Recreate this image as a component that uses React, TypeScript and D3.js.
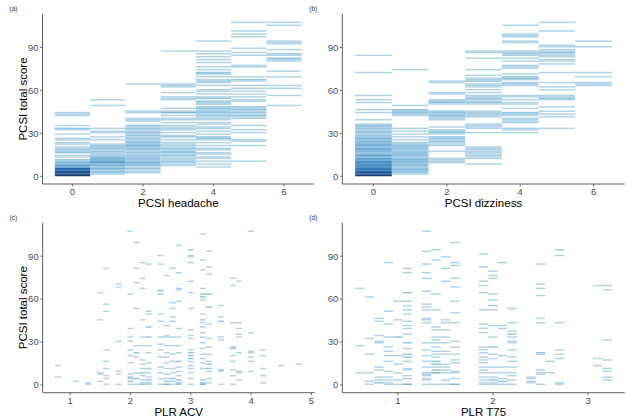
import React from 'react';
import * as d3 from 'd3';

// PCSI total score counts per headache level: [score, n]
const headache0 = [[0,9],[1,9],[2,8],[3,8],[4,7],[5,7],[6,4],[7,4],[8,3],[9,3],[10,2],[11,2],[13,1],[14,1],[16,2],[17,1],[18,2],[19,1],[20,1],[22,1],[23,1],[25,1],[26,1],[29,1],[32,1],[33,2],[35,1],[42,1],[43,1],[44,1]];
const headache1 = [[53,1],[49,1],[33,1],[31,1],[30,1],[27,1],[25,1],[22,1],[21,2],[20,2],[19,2],[18,1],[17,2],[16,1],[15,2],[14,1],[13,3],[12,3],[11,3],[10,4],[9,4],[8,3],[7,3],[6,2],[5,3],[4,2],[3,2],[2,2],[1,1]];
const headache2 = [[64,1],[45,1],[44,1],[40,1],[39,1],[38,1],[35,2],[34,1],[33,2],[32,1],[31,1],[30,2],[29,1],[28,2],[27,1],[26,2],[25,1],[24,2],[23,2],[22,2],[21,3],[20,2],[19,2],[18,2],[17,1],[16,2],[15,1],[14,2],[13,2],[12,2],[11,2],[10,2],[9,3],[8,3],[7,2],[6,1],[5,2],[4,1],[3,1],[2,1]];
const headache3 = [[87,1],[64,1],[63,1],[62,1],[58,1],[55,1],[54,1],[53,1],[47,1],[45,1],[44,3],[42,1],[40,1],[39,1],[37,1],[35,1],[34,1],[33,1],[32,1],[30,1],[28,1],[27,2],[25,1],[23,1],[22,1],[21,1],[20,1],[19,2],[18,1],[17,2],[16,2],[15,1],[14,2],[13,1],[12,1],[11,1],[10,2],[9,1],[8,1],[7,1]];
const headache4 = [[94,1],[87,1],[85,1],[83,1],[81,1],[79,1],[76,1],[74,1],[72,2],[71,2],[69,1],[67,1],[66,2],[65,1],[63,1],[60,1],[59,1],[57,1],[55,1],[54,2],[52,2],[51,1],[50,2],[48,2],[47,2],[46,1],[45,2],[44,2],[43,1],[42,2],[41,1],[40,1],[39,1],[37,1],[36,1],[34,1],[33,1],[31,1],[29,1],[27,2],[26,2],[25,1],[23,1],[21,1],[19,1],[18,1],[16,1],[15,1],[13,1],[12,1],[10,1],[8,1],[6,1]];
const headache5 = [[107,1],[101,1],[99,1],[97,1],[89,1],[86,1],[84,1],[77,1],[76,1],[69,1],[67,2],[66,1],[63,1],[61,1],[59,1],[57,1],[55,1],[53,1],[52,1],[48,2],[47,1],[46,2],[45,1],[44,2],[43,1],[42,2],[41,1],[40,1],[35,1],[32,1],[30,1],[25,1],[24,1],[21,1],[10,1]];
const headache6 = [[107,1],[105,1],[94,1],[93,1],[92,1],[88,1],[85,2],[84,1],[82,2],[81,1],[80,1],[73,1],[69,1],[63,1],[61,1],[56,1],[49,1]];

// PCSI total score counts per dizziness level: [score, n]
const dizzy0 = [[84,1],[72,1],[56,1],[53,1],[51,1],[46,1],[44,1],[39,1],[36,1],[35,2],[34,2],[33,2],[32,1],[31,2],[30,2],[29,1],[28,2],[27,2],[26,3],[25,2],[24,3],[23,2],[22,4],[21,3],[20,3],[19,3],[18,4],[17,3],[16,2],[15,3],[14,4],[13,3],[12,4],[11,4],[10,5],[9,5],[8,6],[7,5],[6,6],[5,6],[4,7],[3,7],[2,8],[1,8],[0,9]];
const dizzy1 = [[74,1],[49,1],[46,2],[45,2],[44,2],[43,2],[42,1],[33,1],[31,1],[29,1],[27,1],[25,1],[23,1],[22,2],[21,2],[20,3],[19,2],[18,2],[17,2],[16,2],[15,3],[14,2],[13,2],[12,2],[11,3],[10,3],[9,2],[8,3],[7,2],[6,2],[5,2],[4,3],[3,2],[2,2],[1,1]];
const dizzy2 = [[66,1],[65,1],[58,1],[57,1],[53,1],[52,2],[51,2],[50,1],[45,2],[44,2],[43,2],[42,2],[41,2],[40,1],[39,1],[34,1],[32,1],[31,2],[30,2],[29,1],[27,2],[26,2],[25,1],[24,2],[23,1],[22,1],[21,1],[17,1],[12,1],[11,1],[10,1],[9,1]];
const dizzy3 = [[87,1],[86,1],[82,1],[74,1],[70,1],[68,1],[67,1],[66,2],[64,1],[63,1],[62,1],[60,1],[58,1],[56,1],[55,1],[54,2],[53,1],[52,1],[51,2],[50,1],[45,1],[44,1],[43,2],[42,1],[41,1],[36,1],[35,1],[34,1],[33,1],[30,1],[20,1],[19,1],[18,1],[17,1],[16,1],[15,1],[14,1],[13,1],[12,1],[8,1]];
const dizzy4 = [[105,1],[99,1],[98,1],[97,1],[94,1],[93,1],[87,1],[86,1],[85,2],[84,1],[82,1],[80,1],[77,1],[76,1],[75,1],[71,1],[69,2],[68,2],[67,1],[65,1],[64,2],[63,1],[56,1],[55,1],[53,1],[51,1],[50,1],[47,1],[44,2],[43,2],[42,1],[40,1],[39,1],[38,1],[37,1],[33,1],[32,1],[30,1]];
const dizzy5 = [[107,1],[101,1],[91,1],[90,1],[88,1],[87,1],[86,2],[85,1],[84,1],[83,1],[81,1],[80,1],[78,1],[72,1],[65,1],[62,1],[60,1],[56,1],[55,1],[54,2],[53,1],[48,1],[45,1],[43,1],[41,1],[33,1]];
const dizzy6 = [[94,1],[90,1],[72,1],[69,1],[65,1],[64,1],[63,1]];

// PLR ACV bins: [acv, score, n]
const acvBins = [
  [0.8,13,1],[0.8,5,1],[1.1,2,1],[1.3,1,1],[1.3,0,1],
  [1.5,64,1],[1.5,45,1],[1.5,8,1],[1.5,7,1],[1.5,2,1],
  [1.6,81,1],[1.6,56,1],[1.6,51,1],[1.6,24,1],[1.6,16,1],[1.6,11,1],[1.6,6,1],[1.6,4,1],[1.6,0,1],
  [1.8,70,1],[1.8,68,1],[1.8,30,1],[1.8,9,1],[1.8,7,1],[1.8,0,1],
  [2.0,107,1],[2.0,63,1],[2.0,39,1],[2.0,33,1],[2.0,30,1],[2.0,24,1],[2.0,20,1],[2.0,15,1],[2.0,7,1],[2.0,5,2],[2.0,4,1],[2.0,2,2],[2.0,0,1],
  [2.1,99,1],[2.1,81,1],[2.1,71,1],[2.1,53,1],[2.1,27,1],[2.1,22,2],[2.1,19,1],[2.1,8,1],[2.1,4,2],[2.1,0,1],
  [2.2,85,1],[2.2,74,1],[2.2,67,1],[2.2,45,1],[2.2,33,1],[2.2,27,1],[2.2,17,1],[2.2,14,1],[2.2,11,1],[2.2,8,2],[2.2,6,1],[2.2,3,1],[2.2,1,1],[2.2,0,2],
  [2.3,84,1],[2.3,51,1],[2.3,49,1],[2.3,40,2],[2.3,33,2],[2.3,27,1],[2.3,22,1],[2.3,15,1],[2.3,11,1],[2.3,8,1],[2.3,5,1],[2.3,3,2],[2.3,1,2],[2.3,0,1],
  [2.5,90,1],[2.5,84,1],[2.5,66,1],[2.5,65,1],[2.5,63,1],[2.5,49,1],[2.5,44,1],[2.5,33,1],[2.5,28,1],[2.5,24,1],[2.5,19,1],[2.5,12,1],[2.5,8,1],[2.5,4,1],[2.5,0,1],
  [2.6,76,1],[2.6,41,1],[2.6,34,1],[2.6,33,1],[2.6,27,1],[2.6,22,1],[2.6,19,1],[2.6,15,1],[2.6,11,1],[2.6,7,1],[2.6,4,1],[2.6,2,2],[2.6,0,3],
  [2.7,81,1],[2.7,57,1],[2.7,53,1],[2.7,47,1],[2.7,44,1],[2.7,33,1],[2.7,27,1],[2.7,21,1],[2.7,16,1],[2.7,11,1],[2.7,8,1],[2.7,4,2],[2.7,2,1],[2.7,0,1],
  [2.8,97,1],[2.8,78,1],[2.8,67,1],[2.8,66,1],[2.8,58,1],[2.8,39,1],[2.8,33,1],[2.8,27,1],[2.8,22,1],[2.8,16,2],[2.8,12,1],[2.8,9,1],[2.8,6,1],[2.8,3,2],[2.8,1,2],[2.8,0,2],
  [3.0,94,1],[3.0,90,1],[3.0,89,1],[3.0,85,1],[3.0,72,1],[3.0,64,1],[3.0,53,1],[3.0,38,1],[3.0,34,1],[3.0,32,1],[3.0,24,1],[3.0,22,2],[3.0,20,2],[3.0,18,2],[3.0,16,1],[3.0,13,1],[3.0,11,1],[3.0,8,1],[3.0,4,1],[3.0,0,1],
  [3.2,105,1],[3.2,87,1],[3.2,80,1],[3.2,67,1],[3.2,63,2],[3.2,61,2],[3.2,59,1],[3.2,49,1],[3.2,45,1],[3.2,43,1],[3.2,40,1],[3.2,36,1],[3.2,33,1],[3.2,29,1],[3.2,25,1],[3.2,21,1],[3.2,18,1],[3.2,15,1],[3.2,11,1],[3.2,3,2],[3.2,1,2],[3.2,0,3],
  [3.3,93,1],[3.3,82,1],[3.3,77,1],[3.3,63,2],[3.3,54,2],[3.3,42,1],[3.3,32,1],[3.3,26,1],[3.3,21,1],[3.3,16,1],[3.3,14,2],[3.3,11,2],[3.3,9,1],[3.3,4,1],[3.3,1,1],
  [3.5,55,1],[3.5,47,1],[3.5,44,2],[3.5,33,1],[3.5,31,1],[3.5,10,2],[3.5,9,1],[3.5,0,1],
  [3.7,74,1],[3.7,69,1],[3.7,43,1],[3.7,26,2],[3.7,25,1],[3.7,20,1],[3.7,16,1],[3.7,10,1],[3.7,6,1],[3.7,0,1],
  [3.8,72,1],[3.8,43,1],[3.8,39,1],[3.8,35,1],[3.8,33,1],[3.8,22,1],[3.8,9,1],[3.8,8,1],[3.8,3,1],
  [4.0,107,1],[4.0,36,1],[4.0,23,1],[4.0,22,1],[4.0,19,1],[4.0,16,1],[4.0,9,1],
  [4.2,24,1],[4.2,20,1],[4.2,11,1],[4.2,6,1],[4.2,1,1],
  [4.5,13,1],[4.8,14,1]
];

// PLR T75 bins: [t75, score, n]
const t75Bins = [
  [0.6,67,1],[0.6,27,1],[0.6,8,1],
  [0.7,61,1],[0.7,32,1],[0.7,21,1],[0.7,8,1],[0.7,2,1],[0.7,0,1],
  [0.8,46,1],[0.8,44,1],[0.8,34,1],[0.8,30,1],[0.8,29,1],[0.8,12,1],[0.8,10,1],[0.8,5,1],[0.8,3,1],[0.8,1,2],
  [0.9,85,1],[0.9,51,1],[0.9,42,1],[0.9,33,1],[0.9,26,1],[0.9,23,1],[0.9,20,1],[0.9,16,1],[0.9,9,1],[0.9,5,1],[0.9,3,1],[0.9,1,1],[0.9,0,1],
  [1.0,58,1],[1.0,45,1],[1.0,33,2],[1.0,20,1],[1.0,14,1],[1.0,8,1],[1.0,3,1],[1.0,0,1],
  [1.1,81,1],[1.1,78,1],[1.1,64,2],[1.1,58,1],[1.1,55,1],[1.1,52,1],[1.1,49,1],[1.1,44,1],[1.1,41,1],[1.1,39,1],[1.1,35,1],[1.1,29,2],[1.1,25,1],[1.1,21,2],[1.1,19,2],[1.1,16,1],[1.1,11,1],[1.1,10,1],[1.1,6,1],[1.1,4,1],[1.1,0,3],
  [1.3,107,1],[1.3,93,1],[1.3,84,1],[1.3,78,1],[1.3,74,1],[1.3,65,1],[1.3,56,1],[1.3,54,1],[1.3,52,1],[1.3,46,1],[1.3,45,1],[1.3,43,1],[1.3,29,1],[1.3,24,1],[1.3,20,1],[1.3,16,1],[1.3,12,1],[1.3,8,1],[1.3,7,1],[1.3,6,1],[1.3,4,1],[1.3,3,1],[1.3,0,1],
  [1.4,94,1],[1.4,87,1],[1.4,63,1],[1.4,52,1],[1.4,40,1],[1.4,38,1],[1.4,33,1],[1.4,31,1],[1.4,29,1],[1.4,26,1],[1.4,23,1],[1.4,21,1],[1.4,19,1],[1.4,16,2],[1.4,14,2],[1.4,12,1],[1.4,10,2],[1.4,8,3],[1.4,0,1],
  [1.5,89,1],[1.5,81,1],[1.5,72,1],[1.5,45,1],[1.5,43,1],[1.5,38,1],[1.5,33,1],[1.5,29,1],[1.5,23,1],[1.5,21,1],[1.5,14,1],[1.5,12,1],[1.5,10,1],[1.5,8,1],[1.5,3,1],[1.5,0,1],
  [1.6,99,1],[1.6,85,1],[1.6,83,1],[1.6,74,1],[1.6,68,1],[1.6,58,1],[1.6,50,1],[1.6,43,1],[1.6,30,1],[1.6,26,1],[1.6,21,1],[1.6,17,1],[1.6,15,1],[1.6,9,1],[1.6,8,1],[1.6,4,1],[1.6,0,3],
  [1.9,91,1],[1.9,82,1],[1.9,72,1],[1.9,69,1],[1.9,64,1],[1.9,52,1],[1.9,42,1],[1.9,39,1],[1.9,36,1],[1.9,26,1],[1.9,24,1],[1.9,22,1],[1.9,19,1],[1.9,17,1],[1.9,15,1],[1.9,12,1],[1.9,10,1],[1.9,8,1],[1.9,5,1],[1.9,3,1],[1.9,1,1],[1.9,0,1],
  [2.0,79,1],[2.0,76,1],[2.0,74,1],[2.0,63,1],[2.0,59,1],[2.0,55,2],[2.0,52,1],[2.0,41,1],[2.0,33,1],[2.0,26,2],[2.0,21,1],[2.0,18,1],[2.0,12,1],[2.0,8,1],[2.0,5,1],[2.0,3,2],[2.0,1,1],[2.0,0,1],
  [2.1,85,1],[2.1,41,1],[2.1,39,1],[2.1,20,1],[2.1,12,1],[2.1,8,1],[2.1,4,1],[2.1,2,2],[2.1,0,1],
  [2.2,53,1],[2.2,43,1],[2.2,37,1],[2.2,35,2],[2.2,33,1],[2.2,30,1],[2.2,29,1],[2.2,24,1],[2.2,19,1],[2.2,16,1],[2.2,12,1],[2.2,8,1],[2.2,6,1],[2.2,3,1],[2.2,0,1],
  [2.4,5,1],[2.4,4,1],[2.4,2,1],[2.4,1,1],
  [2.5,84,1],[2.5,70,1],[2.5,67,1],[2.5,62,1],[2.5,46,1],[2.5,43,1],[2.5,22,2],[2.5,21,1],[2.5,10,1],[2.5,8,1],[2.5,7,1],[2.5,0,1],
  [2.6,16,1],[2.6,8,1],
  [2.7,94,1],[2.7,90,1],[2.7,43,1],[2.7,24,1],[2.7,21,1],[2.7,18,1],[2.7,1,1],[2.7,0,1],
  [3.1,69,1],[3.1,18,1],[3.1,13,1],
  [3.2,69,1],[3.2,66,1],[3.2,31,1],[3.2,17,1],[3.2,11,1],[3.2,9,1],[3.2,5,1],[3.2,3,1]
];

const yTicks = [0, 30, 60, 90];
const headacheTicks = [0, 2, 4, 6];
const acvTicks = [1, 2, 3, 4, 5];
const t75Ticks = [1, 2, 3];

const toBins = (cols) => cols.flatMap((col, i) => col.map(([y, n]) => [i, y, n]));

const maxN = 9;
const fill = (n) => d3.interpolateBlues(0.34 + 0.66 * (n - 1) / (maxN - 1));
const font = 'Liberation Sans, Arial, sans-serif';

function Panel({bins, binW, xTicks, box, xTitle, yTitle, tag}) {
  const [x0, x1] = d3.extent(bins, d => d[0]);
  const lo = x0 - binW / 2, hi = x1 + binW / 2;
  const padX = (hi - lo) * 0.05;
  const x = d3.scaleLinear().domain([lo - padX, hi + padX]).range([box.left, box.right]);
  const yHi = d3.max(bins, d => d[1]) + 1;
  const y = d3.scaleLinear().domain([-yHi * 0.05, yHi * 1.05]).range([box.bottom, box.top]);
  return (
    <g>
      <text x={box.left - 33} y={box.top - 3} fontSize={6.5} fill="#333" fontFamily={font}>{tag}</text>
      {bins.map((d, i) => (
        <rect key={i} x={x(d[0] - binW / 2)} width={x(d[0] + binW / 2) - x(d[0] - binW / 2)}
          y={y(d[1] + 1)} height={y(d[1]) - y(d[1] + 1)} fill={fill(d[2])} fillOpacity={0.92} />
      ))}
      <line x1={box.left} x2={box.left} y1={box.top} y2={box.bottom} stroke="#4d4d4d" strokeWidth={0.9} />
      <line x1={box.left} x2={box.right} y1={box.bottom} y2={box.bottom} stroke="#4d4d4d" strokeWidth={0.9} />
      {yTicks.map(t => (
        <g key={t}>
          <line x1={box.left - 2.5} x2={box.left} y1={y(t)} y2={y(t)} stroke="#4d4d4d" strokeWidth={0.8} />
          <text x={box.left - 4} y={y(t)} dy="0.35em" textAnchor="end" fontSize={9.5} fill="#4d4d4d" fontFamily={font}>{t}</text>
        </g>
      ))}
      {xTicks.map(t => (
        <g key={t}>
          <line x1={x(t)} x2={x(t)} y1={box.bottom} y2={box.bottom + 2.5} stroke="#4d4d4d" strokeWidth={0.8} />
          <text x={x(t)} y={box.bottom + 4} dy="0.75em" textAnchor="middle" fontSize={9.5} fill="#4d4d4d" fontFamily={font}>{t}</text>
        </g>
      ))}
      <text x={(box.left + box.right) / 2} y={box.bottom + 23} textAnchor="middle" fontSize={11.5} fill="#000" fontFamily={font}>{xTitle}</text>
      {yTitle && (
        <text transform={`translate(${box.left - 16},${(box.top + box.bottom) / 2}) rotate(-90)`} textAnchor="middle"
          fontSize={11.5} fill="#000" fontFamily={font}>{yTitle}</text>
      )}
    </g>
  );
}

export default function App() {
  const headBins = toBins([headache0, headache1, headache2, headache3, headache4, headache5, headache6]);
  const dizzBins = toBins([dizzy0, dizzy1, dizzy2, dizzy3, dizzy4, dizzy5, dizzy6]);
  return (
    <svg width={626} height={418} style={{position: 'absolute', left: 0, top: 0, background: '#fff'}}>
      <Panel bins={headBins} binW={1} xTicks={headacheTicks} tag="(a)" xTitle="PCSI headache" yTitle="PCSI total score"
        box={{left: 42.5, right: 314, top: 14, bottom: 184}} />
      <Panel bins={dizzBins} binW={1} xTicks={headacheTicks} tag="(b)" xTitle="PCSI dizziness"
        box={{left: 342.3, right: 624.7, top: 14, bottom: 184}} />
      <Panel bins={acvBins} binW={0.1} xTicks={acvTicks} tag="(c)" xTitle="PLR ACV" yTitle="PCSI total score"
        box={{left: 42.7, right: 314.7, top: 222.7, bottom: 392.7}} />
      <Panel bins={t75Bins} binW={0.1} xTicks={t75Ticks} tag="(d)" xTitle="PLR T75"
        box={{left: 342.3, right: 624.7, top: 222.7, bottom: 392.7}} />
    </svg>
  );
}
